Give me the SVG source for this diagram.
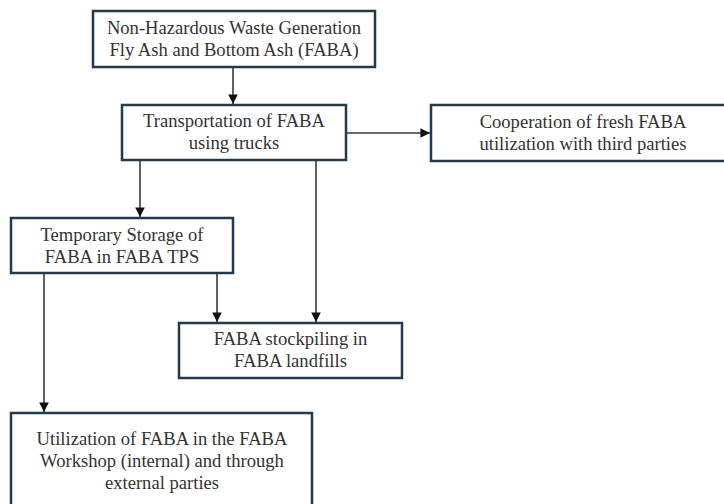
<svg xmlns="http://www.w3.org/2000/svg" width="724" height="504" viewBox="0 0 724 504">
<style>
.box{fill:#ffffff;stroke:#233a4a;stroke-width:2.5}
.t{font-family:'Liberation Serif','DejaVu Serif',serif;font-size:18.6px;fill:#333333;text-anchor:middle}
.c{stroke:#3a3a3a;stroke-width:1.6;fill:none;marker-end:url(#ah)}
</style>
<defs>
<marker id="ah" viewBox="0 0 10 10" refX="10" refY="5" markerWidth="6" markerHeight="6" markerUnits="strokeWidth" orient="auto">
<path d="M0,0 L10,5 L0,10 z" fill="#111111"/>
</marker>
</defs>
<rect width="724" height="504" fill="#ffffff"/>
<g id="connectors">
<line class="c" x1="233" y1="67" x2="233" y2="104"/>
<line class="c" x1="347" y1="133" x2="430" y2="133"/>
<line class="c" x1="140" y1="161" x2="140" y2="217"/>
<line class="c" x1="316" y1="161" x2="316" y2="322"/>
<line class="c" x1="217" y1="274" x2="217" y2="322"/>
<line class="c" x1="44" y1="274" x2="44" y2="412"/>
</g>
<g id="n1">
<rect class="box" x="93" y="11" width="282" height="56"/>
<text class="t" x="234" y="34">Non-Hazardous Waste Generation</text>
<text class="t" x="234" y="56">Fly Ash and Bottom Ash (FABA)</text>
</g>
<g id="n2">
<rect class="box" x="122" y="105" width="224" height="55"/>
<text class="t" x="234" y="127">Transportation of FABA</text>
<text class="t" x="234" y="149">using trucks</text>
</g>
<g id="n3">
<rect class="box" x="431" y="105" width="305" height="56"/>
<text class="t" x="583" y="128">Cooperation of fresh FABA</text>
<text class="t" x="583" y="150">utilization with third parties</text>
</g>
<g id="n4">
<rect class="box" x="11" y="218" width="222" height="55"/>
<text class="t" x="122" y="241">Temporary Storage of</text>
<text class="t" x="122" y="263">FABA in FABA TPS</text>
</g>
<g id="n5">
<rect class="box" x="179" y="323" width="223" height="55"/>
<text class="t" x="290.5" y="345">FABA stockpiling in</text>
<text class="t" x="290.5" y="367">FABA landfills</text>
</g>
<g id="n6">
<rect class="box" x="11" y="413" width="301" height="100"/>
<text class="t" x="162" y="445">Utilization of FABA in the FABA</text>
<text class="t" x="162" y="467">Workshop (internal) and through</text>
<text class="t" x="162" y="489">external parties</text>
</g>
</svg>
